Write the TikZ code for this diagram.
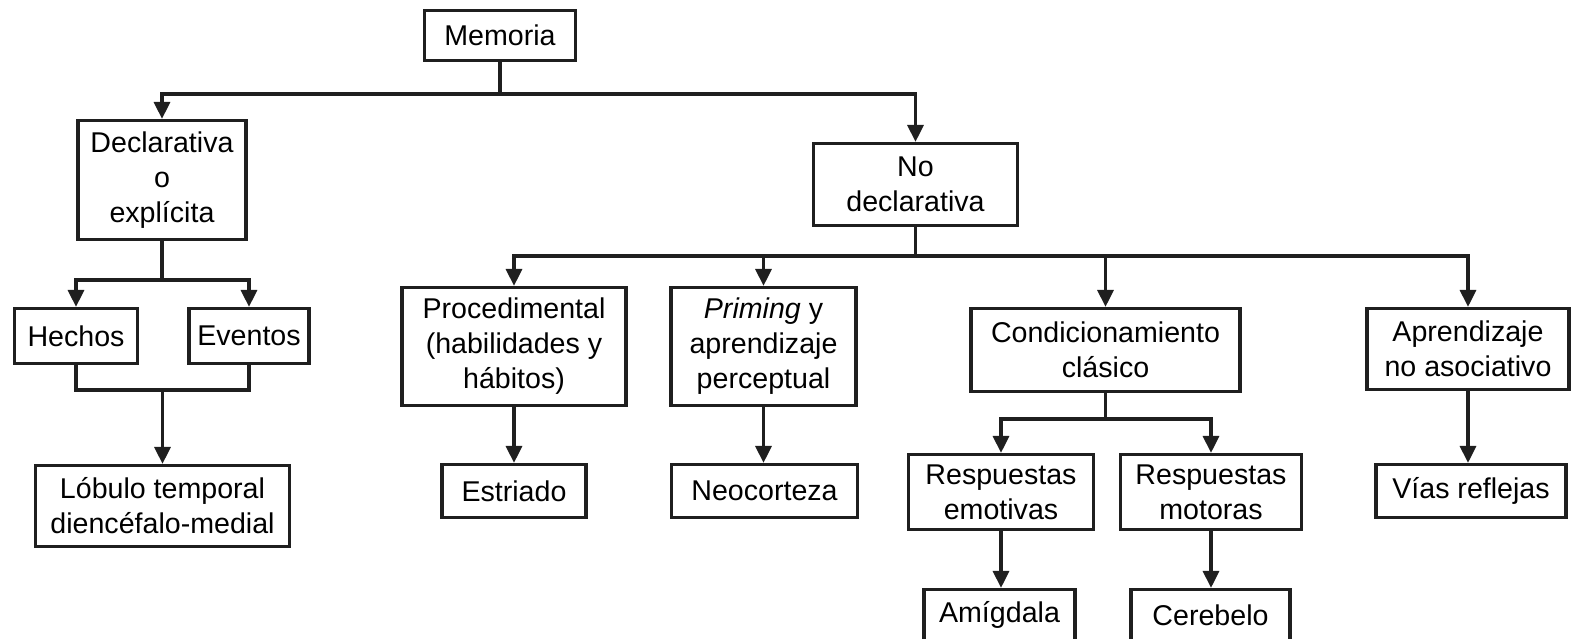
\documentclass[tikz,border=0pt]{standalone}
\usepackage{fontspec}
\setmainfont{Liberation Sans}
\usetikzlibrary{arrows.meta}
\begin{document}
\begin{tikzpicture}[x=1pt,y=-1pt]
\tikzset{
  box/.style={draw=black!88, line width=3.2pt, inner sep=0pt, align=center,
    font=\fontsize{28.6}{35}\selectfont, text=black},
  arr/.style={draw=black!88, line width=3.2pt, -{Triangle[width=16pt,length=17pt]}},
  ln/.style={draw=black!88, line width=3.2pt},
}
\useasboundingbox (0,0) rectangle (1572,639);
\clip (0,0) rectangle (1572,639);
% junction levels
\coordinate (j1) at (0,94);
\coordinate (j2) at (0,280);
\coordinate (j3) at (0,390);
\coordinate (j4) at (0,256);
\coordinate (j5) at (0,419);
% nodes
\node[box, minimum width=151pt, minimum height=50pt] (mem) at (500,35.5) {Memoria};
\node[box, minimum width=168pt, minimum height=119pt] (decl) at (162,180) {Declarativa\\o\\explícita};
\node[box, minimum width=204pt, minimum height=82pt] (nodecl) at (915.5,184.5) {No\\declarativa};
\node[box, minimum width=123pt, minimum height=55pt] (hechos) at (76,336) {Hechos};
\node[box, minimum width=120pt, minimum height=55pt] (eventos) at (249,336) {Eventos};
\node[box, minimum width=254pt, minimum height=81pt] (lobulo) at (162.5,506) {Lóbulo temporal\\diencéfalo-medial};
\node[box, minimum width=224pt, minimum height=118pt] (proc) at (514,346.5) {Procedimental\\(habilidades y\\hábitos)};
\node[box, minimum width=185pt, minimum height=118pt] (prim) at (763.5,346.5) {\textit{Priming} y\\aprendizaje\\perceptual};
\node[box, minimum width=144pt, minimum height=53pt] (estr) at (514,491) {Estriado};
\node[box, minimum width=186pt, minimum height=53pt] (neo) at (764.5,491) {Neocorteza};
\node[box, minimum width=269pt, minimum height=83pt] (cond) at (1105.5,350) {Condicionamiento\\clásico};
\node[box, minimum width=202pt, minimum height=81pt] (aprend) at (1468,349) {Aprendizaje\\no asociativo};
\node[box, minimum width=190pt, minimum height=53pt] (vias) at (1471,491) {Vías reflejas};
\node[box, minimum width=185pt, minimum height=75pt] (resemo) at (1001,492) {Respuestas\\emotivas};
\node[box, minimum width=181pt, minimum height=75pt] (resmot) at (1211,492) {Respuestas\\motoras};
\node[box, minimum width=151pt, minimum height=51pt] (amig) at (999.5,615) {Amígdala};
\node[box, minimum width=159pt, minimum height=51pt] (cereb) at (1210.5,615) {Cerebelo};
% connectors
\draw[ln] (mem.south) -- (mem.south |- j1);
\draw[arr] (mem.south |- j1) -| (decl.north);
\draw[arr] (mem.south |- j1) -| (nodecl.north);
\draw[ln] (decl.south) -- (decl.south |- j2);
\draw[arr] (decl.south |- j2) -| (hechos.north);
\draw[arr] (decl.south |- j2) -| (eventos.north);
\draw[ln] (hechos.south) -- (hechos.south |- j3) -- (eventos.south |- j3) -- (eventos.south);
\draw[arr] (lobulo.north |- j3) -- (lobulo.north);
\draw[ln] (nodecl.south) -- (nodecl.south |- j4);
\draw[arr] (nodecl.south |- j4) -| (proc.north);
\draw[arr] (nodecl.south |- j4) -| (prim.north);
\draw[arr] (nodecl.south |- j4) -| (cond.north);
\draw[arr] (nodecl.south |- j4) -| (aprend.north);
\draw[arr] (proc.south) -- (proc.south |- estr.north);
\draw[arr] (prim.south) -- (prim.south |- neo.north);
\draw[arr] (aprend.south) -- (aprend.south |- vias.north);
\draw[ln] (cond.south) -- (cond.south |- j5);
\draw[arr] (cond.south |- j5) -| (resemo.north);
\draw[arr] (cond.south |- j5) -| (resmot.north);
\draw[arr] (resemo.south) -- (resemo.south |- amig.north);
\draw[arr] (resmot.south) -- (resmot.south |- cereb.north);
\end{tikzpicture}
\end{document}
